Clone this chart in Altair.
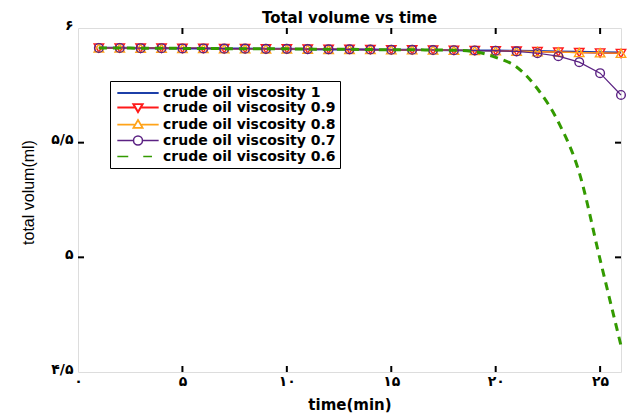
import altair as alt
import pandas as pd

# --- data -----------------------------------------------------------------
time_min = list(range(1, 27))

series_names = [
    "crude oil viscosity 1",
    "crude oil viscosity 0.9",
    "crude oil viscosity 0.8",
    "crude oil viscosity 0.7",
    "crude oil viscosity 0.6",
]

vol_visc_1 = [5.913, 5.913, 5.912, 5.912, 5.911, 5.911, 5.910, 5.910, 5.909,
              5.909, 5.908, 5.907, 5.907, 5.906, 5.905, 5.905, 5.904, 5.903,
              5.902, 5.901, 5.900, 5.899, 5.897, 5.896, 5.894, 5.893]
vol_visc_09 = [5.913, 5.913, 5.912, 5.912, 5.911, 5.911, 5.910, 5.910, 5.909,
               5.909, 5.908, 5.907, 5.907, 5.906, 5.905, 5.905, 5.904, 5.903,
               5.902, 5.901, 5.899, 5.897, 5.895, 5.893, 5.891, 5.889]
vol_visc_08 = [5.913, 5.913, 5.912, 5.912, 5.911, 5.911, 5.910, 5.910, 5.909,
               5.909, 5.908, 5.907, 5.907, 5.906, 5.905, 5.905, 5.904, 5.903,
               5.902, 5.901, 5.899, 5.897, 5.895, 5.893, 5.892, 5.890]
vol_visc_07 = [5.913, 5.913, 5.912, 5.912, 5.911, 5.911, 5.910, 5.910, 5.909,
               5.909, 5.908, 5.907, 5.907, 5.906, 5.905, 5.905, 5.904, 5.903,
               5.902, 5.901, 5.898, 5.890, 5.877, 5.851, 5.803, 5.708]
vol_visc_06 = [5.913, 5.913, 5.912, 5.912, 5.911, 5.911, 5.910, 5.910, 5.909,
               5.909, 5.908, 5.907, 5.907, 5.906, 5.905, 5.905, 5.904, 5.903,
               5.897, 5.872, 5.830, 5.735, 5.590, 5.370, 4.990, 4.615]

line_colors = ["#1c3fa8", "#ff1a1a", "#ffa319", "#5b2283", "#339a00"]

x_ticks = [0, 5, 10, 15, 20, 25]
x_tick_labels = ["۰", "۵", "۱۰", "۱۵", "۲۰", "۲۵"]
y_ticks = [4.5, 5, 5.5, 6]
y_tick_labels = ["۴/۵", "۵", "۵/۵", "۶"]

# legend glyphs: line segment plus open marker, drawn as custom symbol paths
legend_paths = [
    "M-3.18,0H3.18",
    "M-3.18,0H-0.54M0.54,0H3.18M-0.71,-0.52L0.71,-0.52L0,0.69Z",
    "M-3.18,0H-0.54M0.54,0H3.18M-0.71,0.52L0.71,0.52L0,-0.69Z",
    "M-3.18,0H-0.69M0.69,0H3.18M0.69,0A0.69,0.69,0,1,1,-0.69,0A0.69,0.69,0,1,1,0.69,0",
    "M-3.18,0H-1.5M0.81,0H2.15",
]
legend_widths = [2.2, 1.3, 1.3, 1.3, 3.0]

series_values = [vol_visc_1, vol_visc_09, vol_visc_08, vol_visc_07, vol_visc_06]
df = pd.DataFrame({
    "time": [t for _ in series_names for t in time_min],
    "volume": [v for vals in series_values for v in vals],
    "series": [s for s in series_names for _ in time_min],
})


def label_expr(values, labels):
    expr = "''"
    for v, lab in reversed(list(zip(values, labels))):
        expr = f"datum.value == {v} ? '{lab}' : ({expr})"
    return expr


W, H = 543, 344
FONT = "DejaVu Sans"

x_enc = alt.X(
    "time:Q",
    scale=alt.Scale(domain=[0, 26], nice=False, zero=False),
    axis=alt.Axis(
        values=x_ticks, labelExpr=label_expr(x_ticks, x_tick_labels),
        title="time(min)", titleFont=FONT, titleFontSize=15, titleFontWeight="bold",
        titleBaseline="alphabetic", titleY=37, titleColor="black",
        labelFont=FONT, labelFontSize=14, labelFontWeight="bold", labelColor="black",
        labelPadding=2, labelFlush=False, ticks=False, domain=False, grid=False,
    ),
)
y_enc = alt.Y(
    "volume:Q",
    scale=alt.Scale(domain=[4.5, 6], nice=False, zero=False),
    axis=alt.Axis(
        values=y_ticks, labelExpr=label_expr(y_ticks, y_tick_labels),
        title="total volum(ml)", titleFont="Liberation Sans", titleFontSize=16,
        titleFontWeight="normal", titleBaseline="alphabetic", titleX=-45, titleY=164,
        titleAlign="center", titleColor="black",
        labelFont=FONT, labelFontSize=14, labelFontWeight="bold", labelColor="black",
        labelPadding=5, labelOffset=-3, labelFlush=False, ticks=False, domain=False, grid=False,
    ),
)

base = alt.Chart(df)


def series_data(name):
    return base.transform_filter(alt.datum.series == name)


line_1 = series_data(series_names[0]).mark_line(color=line_colors[0], strokeWidth=2.2).encode(x=x_enc, y=y_enc)
line_09 = series_data(series_names[1]).mark_line(color=line_colors[1], strokeWidth=1.2).encode(x=x_enc, y=y_enc)
pts_09 = series_data(series_names[1]).mark_point(
    shape="triangle-down", filled=False, size=90, strokeWidth=1.4, color=line_colors[1], opacity=1
).encode(x=x_enc, y=y_enc)
line_08 = series_data(series_names[2]).mark_line(color=line_colors[2], strokeWidth=1.2).encode(x=x_enc, y=y_enc)
pts_08 = series_data(series_names[2]).mark_point(
    shape="triangle-up", filled=False, size=90, strokeWidth=1.4, color=line_colors[2], opacity=1
).encode(x=x_enc, y=y_enc)
line_07 = series_data(series_names[3]).mark_line(color=line_colors[3], strokeWidth=1.2).encode(x=x_enc, y=y_enc)
pts_07 = series_data(series_names[3]).mark_point(
    shape="circle", filled=False, size=75, strokeWidth=1.4, color=line_colors[3], opacity=1
).encode(x=x_enc, y=y_enc)
line_06 = series_data(series_names[4]).mark_line(
    color=line_colors[4], strokeWidth=3, strokeDash=[8, 6], interpolate="monotone"
).encode(x=x_enc, y=y_enc)

# inward ticks on all four sides
xt = pd.DataFrame({"time": x_ticks[1:]})
yt = pd.DataFrame({"volume": y_ticks[1:-1]})
tick_style = dict(color="black", strokeWidth=2)
ticks_bottom = alt.Chart(xt).mark_rule(**tick_style).encode(x=x_enc, y=alt.value(H), y2=alt.value(H - 6))
ticks_top = alt.Chart(xt).mark_rule(**tick_style).encode(x=x_enc, y=alt.value(0), y2=alt.value(6))
ticks_left = alt.Chart(yt).mark_rule(**tick_style).encode(y=y_enc, x=alt.value(0), x2=alt.value(6))
ticks_right = alt.Chart(yt).mark_rule(**tick_style).encode(y=y_enc, x=alt.value(W), x2=alt.value(W - 6))

legend_def = alt.Legend(
    title=None, orient="none", legendX=32, legendY=53,
    fillColor="white", strokeColor="black", padding=4,
    labelFont=FONT, labelFontSize=14, labelFontWeight="bold", labelColor="black",
    symbolSize=169, symbolOffset=16, labelOffset=17, rowPadding=0, labelLimit=400,
)
legend_layer = base.transform_filter("datum.time < 0").mark_point(filled=False, opacity=1).encode(
    x=x_enc, y=y_enc,
    color=alt.Color("series:N", scale=alt.Scale(domain=series_names, range=line_colors), legend=legend_def),
    shape=alt.Shape("series:N", scale=alt.Scale(domain=series_names, range=legend_paths), legend=legend_def),
    strokeWidth=alt.StrokeWidth("series:N", scale=alt.Scale(domain=series_names, range=legend_widths), legend=legend_def),
)

chart = alt.layer(
    line_1, line_09, pts_09, line_08, pts_08, line_07, pts_07, line_06,
    ticks_bottom, ticks_top, ticks_left, ticks_right, legend_layer,
).properties(
    width=W, height=H,
    title=alt.TitleParams("Total volume vs time", font=FONT, fontSize=15, fontWeight="bold",
                          color="black", anchor="middle", offset=5, dy=13),
    autosize=alt.AutoSizeParams(type="none"),
    padding={"left": 78, "top": 28, "right": 11, "bottom": 43},
).configure_view(
    stroke="black", strokeWidth=2.5
).configure_legend(
    strokeWidth=2
).configure(background="white")

chart.save("out.html", embed_options={"renderer": "svg", "actions": False})
